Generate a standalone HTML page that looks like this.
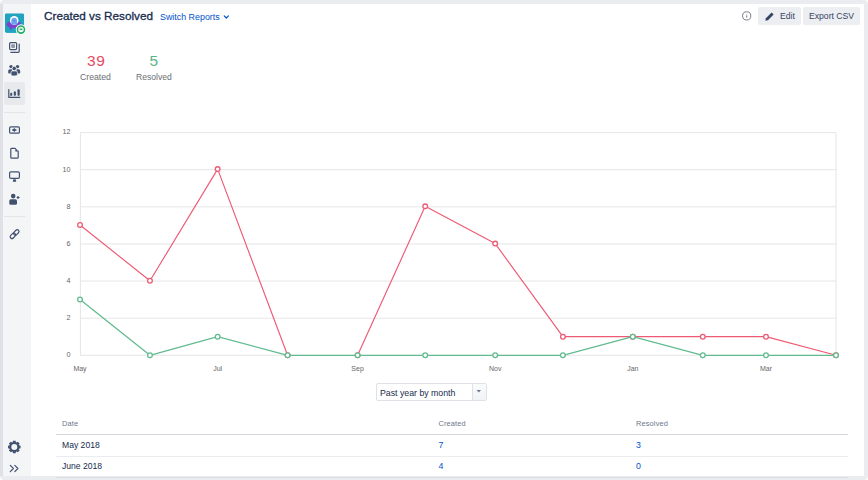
<!DOCTYPE html>
<html><head><meta charset="utf-8">
<style>
*{box-sizing:border-box;margin:0;padding:0}
html,body{width:868px;height:480px;overflow:hidden;background:#fff}
body{position:relative;font-family:"Liberation Sans",Arial,sans-serif;color:#172b4d}
.abs{position:absolute}
.t{position:absolute;white-space:nowrap;line-height:1}
#ftop{left:0;top:0;width:868px;height:4px;background:#ebecf0}
#fleft{left:0;top:4px;width:3px;height:472px;background:#dfe1e6}
#fright{left:864px;top:0;width:4px;height:480px;background:#ebecf0}
#fbot{left:0;top:476px;width:868px;height:4px;background:#ebecf0}
#side{left:3px;top:4px;width:28px;height:472px;background:#f4f5f7}
.sep{position:absolute;left:4px;width:21px;height:1px;background:#e3e4e8}
.btn{position:absolute;top:7px;height:17.8px;background:#edeef2;border-radius:2px}
</style></head><body>
<div id="side" class="abs"></div>
<div class="abs" style="left:4px;top:82px;width:20.8px;height:22.7px;background:#e8e9ed;border-radius:2px"></div>
<div class="sep" style="top:111.5px"></div>
<svg class="abs" style="left:0;top:0" width="32" height="480" viewBox="0 0 32 480">
<defs><clipPath id="av"><rect x="4.8" y="13.3" width="19.4" height="19.6" rx="1.8"/></clipPath></defs>
<g clip-path="url(#av)">
<rect x="4.8" y="13.3" width="19.4" height="19.6" fill="#1fa3bf"/>
<rect x="10" y="26" width="1.6" height="3.5" fill="#6a3cc0"/>
<ellipse cx="14" cy="24.4" rx="7.4" ry="3.9" fill="#7a44cc"/>
<circle cx="14.2" cy="20.4" r="4.3" fill="#fff"/>
<path d="M11.3 24.6 L11.3 20.6 A2.9 2.9 0 0 1 17.1 20.6 L17.1 24.6 Z" fill="#6aa5f2"/>
<circle cx="14.2" cy="20.6" r="0.8" fill="#7b6fd0"/>
</g>
<circle cx="21" cy="29.6" r="5.3" fill="#fff"/>
<circle cx="21" cy="29.6" r="4.3" fill="#21ad6a"/>
<circle cx="21" cy="29.5" r="2.8" fill="#d9f2e4"/>
<ellipse cx="21" cy="31.1" rx="1.5" ry="0.6" fill="#fff"/>
<ellipse cx="21" cy="29.3" rx="1.5" ry="0.8" fill="#21ad6a"/>
<g fill="none" stroke="#42526e" stroke-width="1.2" stroke-linecap="round" stroke-linejoin="round">
<!-- backlog -->
<rect x="9.6" y="42.6" width="7" height="7" rx="1"/>
<path d="M19.2 44 V51.3 Q19.2 52.3 18.2 52.3 H10.8"/>
<!-- reports -->
<path d="M8.8 89.6 V97.3 H19.8"/>
<!-- add item -->
<rect x="9.6" y="126.8" width="9.8" height="6.4" rx="1.3"/>
<!-- page -->
<path d="M15.2 148.4 H11.6 Q10.8 148.4 10.8 149.2 V157.4 Q10.8 158.2 11.6 158.2 H17.4 Q18.2 158.2 18.2 157.4 V151.4"/>
<!-- monitor -->
<rect x="9.6" y="171.8" width="9.8" height="6.5" rx="1.3"/>
<!-- link -->
<g transform="rotate(-45 14.6 234.1)">
<rect x="9.1" y="232.3" width="6.2" height="3.6" rx="1.8"/>
<rect x="13.9" y="232.3" width="6.2" height="3.6" rx="1.8"/>
</g>
<!-- chevrons -->
<path d="M10.3 465.4 L13.4 468.5 L10.3 471.6 M14.8 465.4 L17.9 468.5 L14.8 471.6"/>
</g>
<g fill="#42526e">
<rect x="11.3" y="44.3" width="3.6" height="3.6" fill="#8993a4"/>
<!-- people -->
<circle cx="11" cy="66.6" r="1.7"/>
<circle cx="17.5" cy="66.6" r="1.7"/>
<path d="M8.2 71 Q8.2 69.3 10 69.3 H12 V73.6 H9.2 Q8.2 73.6 8.2 72.6Z"/>
<path d="M20.2 71 Q20.2 69.3 18.4 69.3 H16.4 V73.6 H19.2 Q20.2 73.6 20.2 72.6Z"/>
<circle cx="14.2" cy="68.5" r="2.2" stroke="#f4f5f7" stroke-width="0.8"/>
<rect x="11" y="70.9" width="6.4" height="5" rx="1.4" stroke="#f4f5f7" stroke-width="0.8"/>
<!-- report bars -->
<rect x="10.2" y="92.8" width="2" height="3.1" rx="1"/>
<rect x="13.8" y="91.2" width="2.1" height="4.7" rx="1.05"/>
<rect x="17.5" y="89.2" width="2.2" height="6.7" rx="1.1"/>
<!-- add item plus -->
<path d="M14.3 128.1 L16.1 130 L14.3 131.9 L12.5 130Z"/>
<rect x="12" y="129.45" width="4.6" height="1.1"/>
<!-- page fold -->
<path d="M15.3 148 L18.8 151.4 H15.3Z"/>
<!-- monitor stand -->
<path d="M13.4 179.3 H15.6 L16.3 181.8 H12.7Z"/>
<!-- person add -->
<circle cx="13.2" cy="196.1" r="2.3"/>
<rect x="9.3" y="199.2" width="7.7" height="5.6" rx="1.6"/>
<path d="M16.6 197.5 H19.5 M18.05 196.05 V198.95" stroke="#42526e" stroke-width="1.2"/>
<!-- gear -->
<path fill-rule="evenodd" d="M12.67 442.27 L12.97 440.74 L15.63 440.74 L15.93 442.27 L16.49 442.51 L17.79 441.63 L19.67 443.51 L18.79 444.81 L19.03 445.37 L20.56 445.67 L20.56 448.33 L19.03 448.63 L18.79 449.19 L19.67 450.49 L17.79 452.37 L16.49 451.49 L15.93 451.73 L15.63 453.26 L12.97 453.26 L12.67 451.73 L12.11 451.49 L10.81 452.37 L8.93 450.49 L9.81 449.19 L9.57 448.63 L8.04 448.33 L8.04 445.67 L9.57 445.37 L9.81 444.81 L8.93 443.51 L10.81 441.63 L12.11 442.51Z M14.3 444.0 A3.0 3.0 0 1 0 14.3 450.0 A3.0 3.0 0 1 0 14.3 444.0Z"/>
</g>
</svg>

<div class="sep" style="top:216px"></div>

<div class="t" style="left:44px;top:10px;font-size:11.75px;font-weight:normal;-webkit-text-stroke:0.3px #172b4d;color:#172b4d">Created vs Resolved</div>
<div class="t" style="left:160px;top:12.8px;font-size:8.9px;color:#0052cc">Switch Reports</div>

<div class="btn" style="left:758px;width:43px"></div>
<div class="btn" style="left:803px;width:57px"></div>
<div class="t" style="left:780px;top:12px;font-size:8.65px;color:#344563">Edit</div>
<div class="t" style="left:809px;top:12px;font-size:8.65px;color:#344563">Export CSV</div>

<div class="t" style="left:87px;top:53px;font-size:15.5px;color:#e5495f;letter-spacing:0.6px">39</div>
<div class="t" style="left:80px;top:73.2px;font-size:8.7px;color:#6b6f76">Created</div>
<div class="t" style="left:149.5px;top:53px;font-size:15.5px;color:#5cb48a">5</div>
<div class="t" style="left:136px;top:73.2px;font-size:8.6px;color:#6b6f76">Resolved</div>

<svg class="abs" style="left:0;top:0" width="868" height="480" viewBox="0 0 868 480">
<line x1="80" y1="355.30" x2="836" y2="355.30" stroke="#e6e6e6" stroke-width="1"/>
<line x1="80" y1="318.18" x2="836" y2="318.18" stroke="#e6e6e6" stroke-width="1"/>
<line x1="80" y1="281.06" x2="836" y2="281.06" stroke="#e6e6e6" stroke-width="1"/>
<line x1="80" y1="243.94" x2="836" y2="243.94" stroke="#e6e6e6" stroke-width="1"/>
<line x1="80" y1="206.82" x2="836" y2="206.82" stroke="#e6e6e6" stroke-width="1"/>
<line x1="80" y1="169.70" x2="836" y2="169.70" stroke="#e6e6e6" stroke-width="1"/>
<line x1="80" y1="132.58" x2="836" y2="132.58" stroke="#e6e6e6" stroke-width="1"/>
<line x1="80.4" y1="132.58" x2="80.4" y2="355.3" stroke="#e6e6e6" stroke-width="1"/>
<line x1="836" y1="132.58" x2="836" y2="355.3" stroke="#e6e6e6" stroke-width="1"/>
<text x="70.5" y="357.1" text-anchor="end" font-size="7.2" fill="#666" font-family="Liberation Sans">0</text>
<text x="70.5" y="320.0" text-anchor="end" font-size="7.2" fill="#666" font-family="Liberation Sans">2</text>
<text x="70.5" y="282.9" text-anchor="end" font-size="7.2" fill="#666" font-family="Liberation Sans">4</text>
<text x="70.5" y="245.7" text-anchor="end" font-size="7.2" fill="#666" font-family="Liberation Sans">6</text>
<text x="70.5" y="208.6" text-anchor="end" font-size="7.2" fill="#666" font-family="Liberation Sans">8</text>
<text x="70.5" y="171.5" text-anchor="end" font-size="7.2" fill="#666" font-family="Liberation Sans">10</text>
<text x="70.5" y="134.4" text-anchor="end" font-size="7.2" fill="#666" font-family="Liberation Sans">12</text>
<text x="80.0" y="370.5" text-anchor="middle" font-size="7" fill="#666" font-family="Liberation Sans">May</text>
<text x="217.7" y="370.5" text-anchor="middle" font-size="7" fill="#666" font-family="Liberation Sans">Jul</text>
<text x="357.6" y="370.5" text-anchor="middle" font-size="7" fill="#666" font-family="Liberation Sans">Sep</text>
<text x="495.2" y="370.5" text-anchor="middle" font-size="7" fill="#666" font-family="Liberation Sans">Nov</text>
<text x="632.8" y="370.5" text-anchor="middle" font-size="7" fill="#666" font-family="Liberation Sans">Jan</text>
<text x="766.0" y="370.5" text-anchor="middle" font-size="7" fill="#666" font-family="Liberation Sans">Mar</text>
<polyline points="80.00,224.96 149.96,280.82 217.66,169.10 287.60,355.30" fill="none" stroke="#ee5a73" stroke-width="1.15" stroke-linejoin="round"/>
<polyline points="357.60,355.30 425.20,206.34 495.20,243.58 562.90,336.68 632.80,336.68 702.80,336.68 766.00,336.68 836.00,355.30" fill="none" stroke="#ee5a73" stroke-width="1.15" stroke-linejoin="round"/>
<circle cx="80.00" cy="224.96" r="2.35" fill="#fff" stroke="#ee5a73" stroke-width="1.3"/>
<circle cx="149.96" cy="280.82" r="2.35" fill="#fff" stroke="#ee5a73" stroke-width="1.3"/>
<circle cx="217.66" cy="169.10" r="2.35" fill="#fff" stroke="#ee5a73" stroke-width="1.3"/>
<circle cx="287.60" cy="355.30" r="2.35" fill="#fff" stroke="#ee5a73" stroke-width="1.3"/>
<circle cx="357.60" cy="355.30" r="2.35" fill="#fff" stroke="#ee5a73" stroke-width="1.3"/>
<circle cx="425.20" cy="206.34" r="2.35" fill="#fff" stroke="#ee5a73" stroke-width="1.3"/>
<circle cx="495.20" cy="243.58" r="2.35" fill="#fff" stroke="#ee5a73" stroke-width="1.3"/>
<circle cx="562.90" cy="336.68" r="2.35" fill="#fff" stroke="#ee5a73" stroke-width="1.3"/>
<circle cx="632.80" cy="336.68" r="2.35" fill="#fff" stroke="#ee5a73" stroke-width="1.3"/>
<circle cx="702.80" cy="336.68" r="2.35" fill="#fff" stroke="#ee5a73" stroke-width="1.3"/>
<circle cx="766.00" cy="336.68" r="2.35" fill="#fff" stroke="#ee5a73" stroke-width="1.3"/>
<circle cx="836.00" cy="355.30" r="2.35" fill="#fff" stroke="#ee5a73" stroke-width="1.3"/>
<polyline points="80.00,299.44 149.96,355.30 217.66,336.68 287.60,355.30 357.60,355.30 425.20,355.30 495.20,355.30 562.90,355.30 632.80,336.68 702.80,355.30 766.00,355.30 836.00,355.30" fill="none" stroke="#63bb90" stroke-width="1.3" stroke-linejoin="round"/>
<circle cx="80.00" cy="299.44" r="2.35" fill="#fff" stroke="#63bb90" stroke-width="1.3"/>
<circle cx="149.96" cy="355.30" r="2.35" fill="#fff" stroke="#63bb90" stroke-width="1.3"/>
<circle cx="217.66" cy="336.68" r="2.35" fill="#fff" stroke="#63bb90" stroke-width="1.3"/>
<circle cx="287.60" cy="355.30" r="2.35" fill="#fff" stroke="#63bb90" stroke-width="1.3"/>
<circle cx="357.60" cy="355.30" r="2.35" fill="#fff" stroke="#63bb90" stroke-width="1.3"/>
<circle cx="425.20" cy="355.30" r="2.35" fill="#fff" stroke="#63bb90" stroke-width="1.3"/>
<circle cx="495.20" cy="355.30" r="2.35" fill="#fff" stroke="#63bb90" stroke-width="1.3"/>
<circle cx="562.90" cy="355.30" r="2.35" fill="#fff" stroke="#63bb90" stroke-width="1.3"/>
<circle cx="632.80" cy="336.68" r="2.35" fill="#fff" stroke="#63bb90" stroke-width="1.3"/>
<circle cx="702.80" cy="355.30" r="2.35" fill="#fff" stroke="#63bb90" stroke-width="1.3"/>
<circle cx="766.00" cy="355.30" r="2.35" fill="#fff" stroke="#63bb90" stroke-width="1.3"/>
<circle cx="836.00" cy="355.30" r="2.35" fill="#fff" stroke="#63bb90" stroke-width="1.3"/>
</svg>

<!-- info icon -->
<svg class="abs" style="left:740px;top:9px" width="14" height="14" viewBox="740 9 14 14">
<circle cx="746.7" cy="15.9" r="4.1" fill="none" stroke="#6b6e76" stroke-width="0.9"/>
<rect x="746.25" y="13.8" width="0.9" height="1.9" fill="#c4c4c4"/>
<rect x="746.2" y="15.6" width="1" height="1.9" fill="#6b6e76"/>
</svg>
<!-- pencil -->
<svg class="abs" style="left:764px;top:11px" width="11" height="11" viewBox="764 11 11 11">
<path d="M771.6 12.6 L773.6 14.6 L768 20.2 L765.4 20.7 L765.9 18.2 Z" fill="#344563"/>
</svg>
<!-- switch reports chevron -->
<svg class="abs" style="left:222px;top:14px" width="8" height="6" viewBox="222 14 8 6">
<path d="M224.2 15.9 L226.3 18 L228.4 15.9" fill="none" stroke="#0052cc" stroke-width="1.2" stroke-linecap="round" stroke-linejoin="round"/>
</svg>
<!-- dropdown -->
<div class="abs" style="left:376px;top:383px;width:110.5px;height:17.5px;border:1px solid #dfe1e6;border-radius:2px;background:#fff"></div>
<div class="abs" style="left:472px;top:384px;width:13.5px;height:15.5px;border-left:1px solid #dfe1e6;background:linear-gradient(#fafbfc,#f2f3f5);border-radius:0 1px 1px 0"></div>
<svg class="abs" style="left:475px;top:388px" width="8" height="6" viewBox="475 388 8 6">
<path d="M476.6 390 H481 L478.8 392.4 Z" fill="#6b778c"/>
</svg>
<div class="t" style="left:380px;top:388.5px;font-size:8.75px;color:#172b4d">Past year by month</div>
<!-- table -->
<div class="t" style="left:62px;top:419.5px;font-size:7.4px;color:#6b778c;letter-spacing:0.15px">Date</div>
<div class="t" style="left:438.4px;top:419.5px;font-size:7.4px;color:#6b778c;letter-spacing:0.15px">Created</div>
<div class="t" style="left:636px;top:419.5px;font-size:7.4px;color:#6b778c;letter-spacing:0.15px">Resolved</div>
<div class="abs" style="left:56px;top:434px;width:792px;height:1px;background:#d6d8dd"></div>
<div class="t" style="left:62px;top:440.5px;font-size:8.6px;color:#172b4d">May 2018</div>
<div class="t" style="left:438.4px;top:440.5px;font-size:8.8px;color:#0052cc">7</div>
<div class="t" style="left:636px;top:440.5px;font-size:8.8px;color:#0052cc">3</div>
<div class="abs" style="left:56px;top:456px;width:792px;height:1px;background:#ebecf0"></div>
<div class="t" style="left:62px;top:462px;font-size:8.6px;color:#172b4d">June 2018</div>
<div class="t" style="left:438.4px;top:462px;font-size:8.8px;color:#0052cc">4</div>
<div class="t" style="left:636px;top:462px;font-size:8.8px;color:#0052cc">0</div>

<div id="ftop" class="abs"></div>
<div id="fleft" class="abs"></div>
<div id="fright" class="abs"></div>
<div id="fbot" class="abs"></div>
<div class="abs" style="left:56px;top:477px;width:792px;height:1px;background:#dcdde2"></div>
<div class="abs" style="left:0;top:0;width:3px;height:3px;background:radial-gradient(circle at 100% 100%,rgba(255,255,255,0) 2px,#fff 3.2px)"></div>
<div class="abs" style="left:865px;top:0;width:3px;height:3px;background:radial-gradient(circle at 0 100%,rgba(255,255,255,0) 2px,#fff 3.2px)"></div>
<div class="abs" style="left:0;top:477px;width:3px;height:3px;background:radial-gradient(circle at 100% 0,rgba(255,255,255,0) 2px,#fff 3.2px)"></div>
<div class="abs" style="left:865px;top:477px;width:3px;height:3px;background:radial-gradient(circle at 0 0,rgba(255,255,255,0) 2px,#fff 3.2px)"></div>
</body></html>
